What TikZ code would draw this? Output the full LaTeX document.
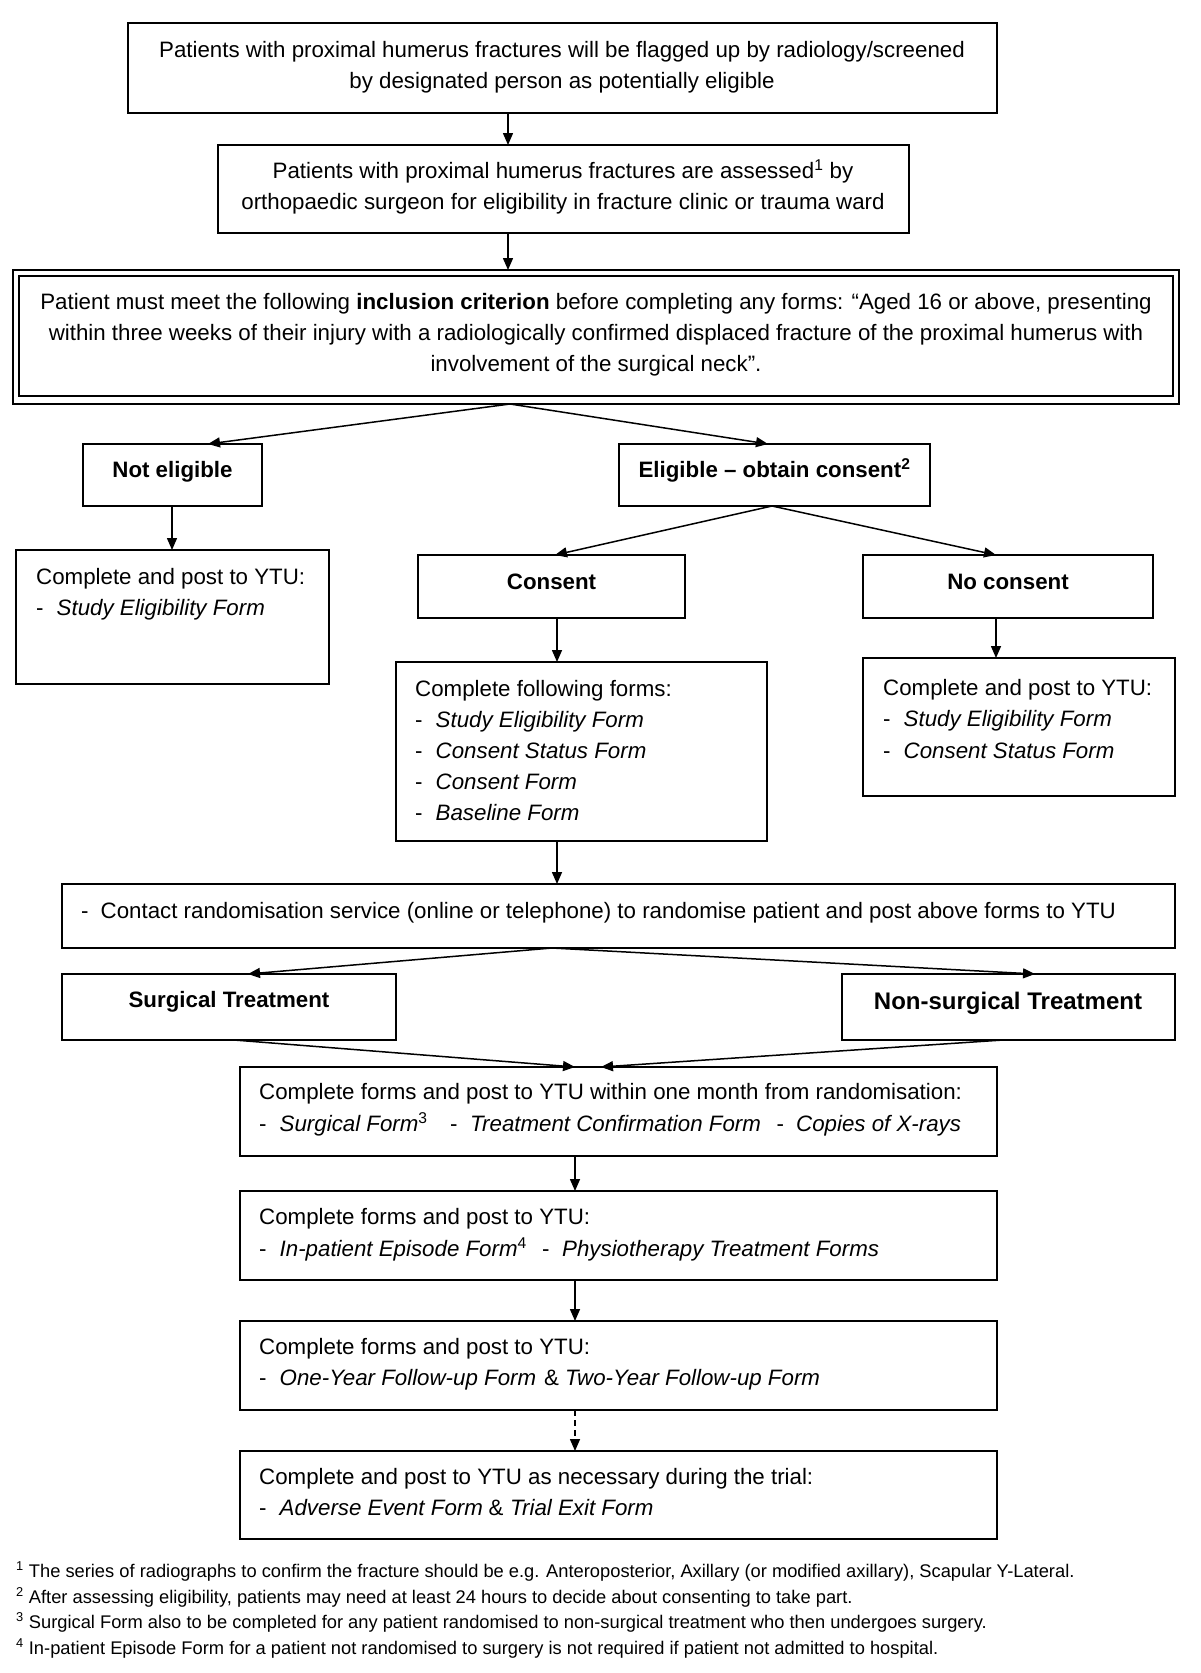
\documentclass[tikz,border=0pt]{standalone}
\usepackage{fontspec}
\setmainfont{Liberation Sans}
\usetikzlibrary{arrows.meta}
\newcommand\seg[2]{\makebox[#1pt][l]{#2}}
\newcommand\mybox[5]{\node[box, anchor=north west, minimum width=#4pt, minimum height=#5pt] (#1) at (#2,#3) {};}
\begin{document}
\begin{tikzpicture}[x=1pt,y=-1pt,
  box/.style={draw, line width=1.6pt, inner sep=0pt, outer sep=0pt},
  arr/.style={line width=1.5pt, -{Triangle[length=12pt,width=10pt]}},
  t/.style={inner sep=0pt, anchor=base west, font=\fontsize{22.3}{31}\selectfont},
  tc/.style={inner sep=0pt, anchor=base, font=\fontsize{22.3}{31}\selectfont},
  tb/.style={inner sep=0pt, anchor=base, font=\fontsize{22.3}{31}\selectfont\bfseries},
  fn/.style={inner sep=0pt, anchor=base west, font=\fontsize{18.3}{22}\selectfont}]
\fill[white] (0,0) rectangle (1200,1673);
\useasboundingbox (0,0) rectangle (1200,1673);

% boxes
\mybox{b1}{128}{23}{869}{90}
\mybox{b2}{218}{145}{691}{88}
\node[draw, line width=2.4pt, inner sep=0pt, outer sep=0pt, anchor=north west, minimum width=1166pt, minimum height=134pt] (b3) at (13,270) {};
\node[draw, line width=1.8pt, inner sep=0pt, outer sep=0pt, anchor=north west, minimum width=1154pt, minimum height=120pt] (b3i) at (19,276) {};
\mybox{ne}{83}{444}{179}{62}
\mybox{el}{619}{444}{311}{62}
\mybox{lc}{16}{550}{313}{134}
\mybox{cs}{418}{555}{267}{63}
\mybox{nc}{863}{555}{290}{63}
\mybox{ff}{396}{662}{371}{179}
\mybox{rc}{863}{658}{312}{138}
\mybox{rd}{62}{884}{1113}{64}
\mybox{st}{62}{974}{334}{66}
\mybox{ns}{842}{974}{333}{66}
\mybox{fa}{240}{1067}{757}{89}
\mybox{fb}{240}{1191}{757}{89}
\mybox{fc}{240}{1321}{757}{89}
\mybox{fd}{240}{1451}{757}{88}

% x positions of connectors
\coordinate (xa) at (508,0);
\coordinate (xb) at (510,0);
\coordinate (xne) at (208,0);
\coordinate (xel) at (768,0);
\coordinate (xlc) at (172,0);
\coordinate (xelb) at (772,0);
\coordinate (xcs) at (555,0);
\coordinate (xnc) at (996,0);
\coordinate (xff) at (557,0);
\coordinate (xrd) at (552,0);
\coordinate (xst) at (248,0);
\coordinate (xns) at (1035,0);
\coordinate (xstb) at (234,0);
\coordinate (xnsb) at (1003,0);
\coordinate (xfl) at (575,0);
\coordinate (xfr) at (601,0);

% connectors
\draw[arr] (b1.south -| xa) -- (b2.north -| xa);
\draw[arr] (b2.south -| xa) -- (b3.north -| xa);
\draw[arr] (b3.south -| xb) -- (ne.north -| xne);
\draw[arr] (b3.south -| xb) -- (el.north -| xel);
\draw[arr] (ne.south -| xlc) -- (lc.north -| xlc);
\draw[arr] (el.south -| xelb) -- (cs.north -| xcs);
\draw[arr] (el.south -| xelb) -- (nc.north -| xnc);
\draw[arr] (cs.south -| xff) -- (ff.north -| xff);
\draw[arr] (nc.south -| xnc) -- (rc.north -| xnc);
\draw[arr] (ff.south -| xff) -- (rd.north -| xff);
\draw[arr] (rd.south -| xrd) -- (st.north -| xst);
\draw[arr] (rd.south -| xrd) -- (ns.north -| xns);
\draw[arr] (st.south -| xstb) -- (fa.north -| xfl);
\draw[arr] (ns.south -| xnsb) -- (fa.north -| xfr);
\draw[arr] (fa.south -| xfl) -- (fb.north -| xfl);
\draw[arr] (fb.south -| xfl) -- (fc.north -| xfl);
\draw[arr, dash pattern=on 6pt off 4pt] (fc.south -| xfl) -- (fd.north -| xfl);

% texts
\node[tc] (t1a) at (562,57) {Patients with proximal humerus fractures will be flagged up by radiology/screened};
\node[tc] (t1b) at (562,88) {by designated person as potentially eligible};
\node[tc] (t2a) at (563,178) {Patients with proximal humerus fractures are assessed\textsuperscript{1} by};
\node[tc] (t2b) at (563,209) {orthopaedic surgeon for eligibility in fracture clinic or trauma ward};
\node[tc] (t3a) at (596,309) {Patient must meet the following \textbf{inclusion criterion} before completing any forms: “Aged 16 or above, presenting};
\node[tc] (t3b) at (596,340) {within three weeks of their injury with a radiologically confirmed displaced fracture of the proximal humerus with};
\node[tc] (t3c) at (596,371) {involvement of the surgical neck”.};
\node[tb] (tne) at (172.5,477) {Not eligible};
\node[tb] (tel) at (774.5,477) {Eligible – obtain consent\textsuperscript{2}};
\node[t] (tlca) at (36,584) {Complete and post to YTU:};
\node[t] (tlcb) at (36,615) {\seg{20.5}{-}\textit{Study Eligibility Form}};
\node[tb] (tcs) at (551.5,589) {Consent};
\node[tb] (tnc) at (1008,589) {No consent};
\node[t] (tffa) at (415,696) {Complete following forms:};
\node[t] (tffb) at (415,727) {\seg{20.5}{-}\textit{Study Eligibility Form}};
\node[t] (tffc) at (415,758) {\seg{20.5}{-}\textit{Consent Status Form}};
\node[t] (tffd) at (415,789) {\seg{20.5}{-}\textit{Consent Form}};
\node[t] (tffe) at (415,820) {\seg{20.5}{-}\textit{Baseline Form}};
\node[t] (trca) at (883,695) {Complete and post to YTU:};
\node[t] (trcb) at (883,726) {\seg{20.5}{-}\textit{Study Eligibility Form}};
\node[t] (trcc) at (883,758) {\seg{20.5}{-}\textit{Consent Status Form}};
\node[t] (trd) at (81,918) {\seg{19.5}{-}Contact randomisation service (online or telephone) to randomise patient and post above forms to YTU};
\node[tb] (tst) at (229,1007) {Surgical Treatment};
\node[inner sep=0pt, anchor=base, font=\fontsize{24}{31}\selectfont\bfseries] (tns) at (1008,1009) {Non-surgical Treatment};
\node[t] (tfaa) at (259,1099) {Complete forms and post to YTU within one month from randomisation:};
\node[t] (tfab) at (259,1131) {\seg{20.5}{-}\seg{170.5}{\textit{Surgical Form}\textsuperscript{3}}\seg{20}{-}\seg{306.5}{\textit{Treatment Confirmation Form}}\seg{19.5}{-}\textit{Copies of X-rays}};
\node[t] (tfba) at (259,1224) {Complete forms and post to YTU:};
\node[t] (tfbb) at (259,1256) {\seg{20.5}{-}\seg{262.5}{\textit{In-patient Episode Form}\textsuperscript{4}}\seg{20}{-}\textit{Physiotherapy Treatment Forms}};
\node[t] (tfca) at (259,1354) {Complete forms and post to YTU:};
\node[t] (tfcb) at (259,1385) {\seg{20.5}{-}\seg{264.5}{\textit{One-Year Follow-up Form}}\seg{21}{\&}\textit{Two-Year Follow-up Form}};
\node[t] (tfda) at (259,1484) {Complete and post to YTU as necessary during the trial:};
\node[t] (tfdb) at (259,1515) {\seg{20.5}{-}\seg{209}{\textit{Adverse Event Form}}\seg{21.5}{\&}\textit{Trial Exit Form}};

% footnotes
\node[fn] (fn1) at (16,1577) {\textsuperscript{1} The series of radiographs to confirm the fracture should be e.g. Anteroposterior, Axillary (or modified axillary), Scapular Y-Lateral.};
\node[fn] (fn2) at (16,1603) {\textsuperscript{2} After assessing eligibility, patients may need at least 24 hours to decide about consenting to take part.};
\node[fn] (fn3) at (16,1628) {\textsuperscript{3} Surgical Form also to be completed for any patient randomised to non-surgical treatment who then undergoes surgery.};
\node[fn] (fn4) at (16,1654) {\textsuperscript{4} In-patient Episode Form for a patient not randomised to surgery is not required if patient not admitted to hospital.};
\end{tikzpicture}
\end{document}
